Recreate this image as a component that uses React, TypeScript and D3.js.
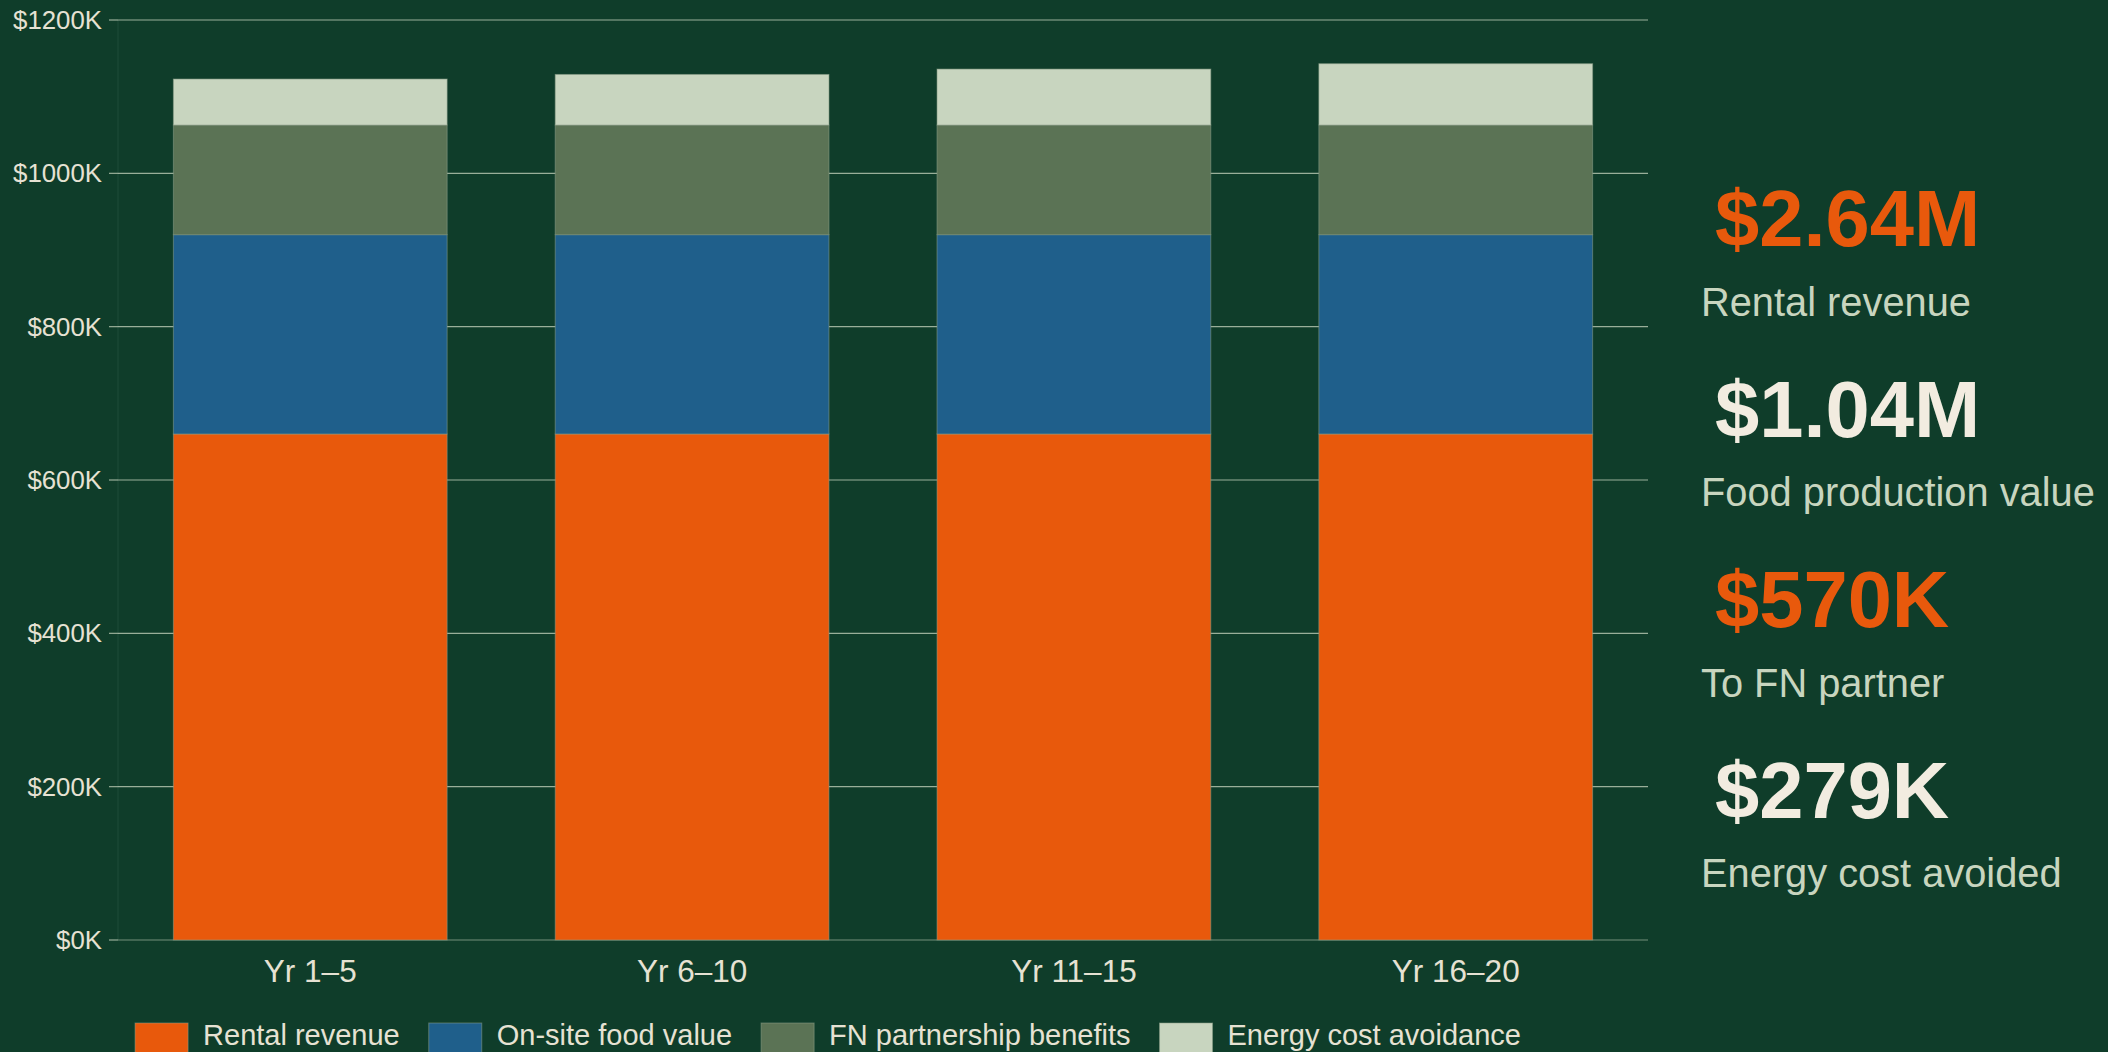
import React from "react";
import * as d3 from "d3";

const categories = ["Yr 1–5", "Yr 6–10", "Yr 11–15", "Yr 16–20"];
const rentalRevenue = [660, 660, 660, 660];
const onSiteFood = [260, 260, 260, 260];
const fnPartnership = [143, 143, 143, 143];
const energyAvoidance = [60, 66, 73, 80];
const seriesNames = ["Rental revenue", "On-site food value", "FN partnership benefits", "Energy cost avoidance"];
const seriesKeys = ["rental", "food", "fn", "energy"];
const seriesColors = ["#e8590c", "#1f5f8b", "#5b7355", "#c8d5bf"];
const yTicks = [0, 200, 400, 600, 800, 1000, 1200];
const kpiValues = ["$2.64M", "$1.04M", "$570K", "$279K"];
const kpiLabels = ["Rental revenue", "Food production value", "To FN partner", "Energy cost avoided"];
const kpiAccent = [true, false, true, false];

const W = 2108;
const H = 1052;
const BG = "#0f3d2a";
const FONT = "'Liberation Sans', Arial, Helvetica, sans-serif";

function measure(text: string, size: number, weight = "normal") {
  const c = document.createElement("canvas").getContext("2d")!;
  c.font = `${weight} ${size}px ${FONT}`;
  return c.measureText(text).width;
}

export default function App() {
  const rows = categories.map((c, i) => ({
    cat: c,
    rental: rentalRevenue[i],
    food: onSiteFood[i],
    fn: fnPartnership[i],
    energy: energyAvoidance[i],
  }));
  const stacked = d3.stack<any>().keys(seriesKeys)(rows);

  const left = 118, right = 1648, top = 20, bottom = 940;
  const x = d3.scaleBand().domain(categories).range([left, right]).paddingInner(0.283).paddingOuter(0.145);
  const y = d3.scaleLinear().domain([0, 1200]).range([bottom, top]);

  const legendFont = 29;
  const sw = 53, gapST = 15, gapItem = 29;
  const widths = seriesNames.map((n) => sw + gapST + measure(n, legendFont));
  const total = widths.reduce((a, b) => a + b, 0) + gapItem * (seriesNames.length - 1);
  const legendCenter = 828;
  let lx = legendCenter - total / 2;
  const legendItems = seriesNames.map((n, i) => {
    const item = { name: n, color: seriesColors[i], x: lx };
    lx += widths[i] + gapItem;
    return item;
  });

  return (
    <div style={{ position: "fixed", left: 0, top: 0, width: W, height: H, background: BG }}>
      <svg width={W} height={H} style={{ display: "block" }} fontFamily={FONT}>
        <rect x={0} y={0} width={W} height={H} fill={BG} />
        <line x1={left} x2={left} y1={top} y2={bottom} stroke="#1f4d38" strokeWidth={1} />
        {yTicks.map((t) => (
          <g key={t}>
            <line x1={left} x2={right} y1={y(t)} y2={y(t)} stroke="#c8d5bf" strokeOpacity={t === 0 ? 0.55 : 0.75} strokeWidth={1.2} />
            <line x1={left - 9} x2={left} y1={y(t)} y2={y(t)} stroke="#c8d5bf" strokeOpacity={0.75} strokeWidth={1.2} />
            <text x={102} y={y(t)} dy="0.35em" textAnchor="end" fontSize={25.8} fill="#e6e2d3">
              {`$${t}K`}
            </text>
          </g>
        ))}
        {stacked.map((s, si) => (
          <g key={s.key} fill={seriesColors[si]}>
            {s.map((d, i) => (
              <rect
                key={i}
                x={x(categories[i])!}
                width={x.bandwidth()}
                y={y(d[1])}
                height={y(d[0]) - y(d[1])}
                stroke="rgba(140,158,136,0.55)"
                strokeWidth={1}
              />
            ))}
          </g>
        ))}
        {categories.map((c) => (
          <text key={c} x={x(c)! + x.bandwidth() / 2} y={982} textAnchor="middle" fontSize={31.5} fill="#e6e2d3">
            {c}
          </text>
        ))}
        {legendItems.map((it) => (
          <g key={it.name}>
            <rect x={it.x} y={1023} width={sw} height={30} fill={it.color} stroke="rgba(140,158,136,0.55)" strokeWidth={1} />
            <text x={it.x + sw + gapST} y={1045} fontSize={legendFont} fill="#e6e2d3">
              {it.name}
            </text>
          </g>
        ))}
        {kpiValues.map((v, i) => (
          <g key={v}>
            <text x={1715} y={246 + i * 190.5} fontSize={79.5} fontWeight="bold" fill={kpiAccent[i] ? "#e8590c" : "#f2ece0"}>
              {v}
            </text>
            <text x={1701} y={315.5 + i * 190.5} fontSize={39.8} fill="#c8d5bf">
              {kpiLabels[i]}
            </text>
          </g>
        ))}
      </svg>
    </div>
  );
}
